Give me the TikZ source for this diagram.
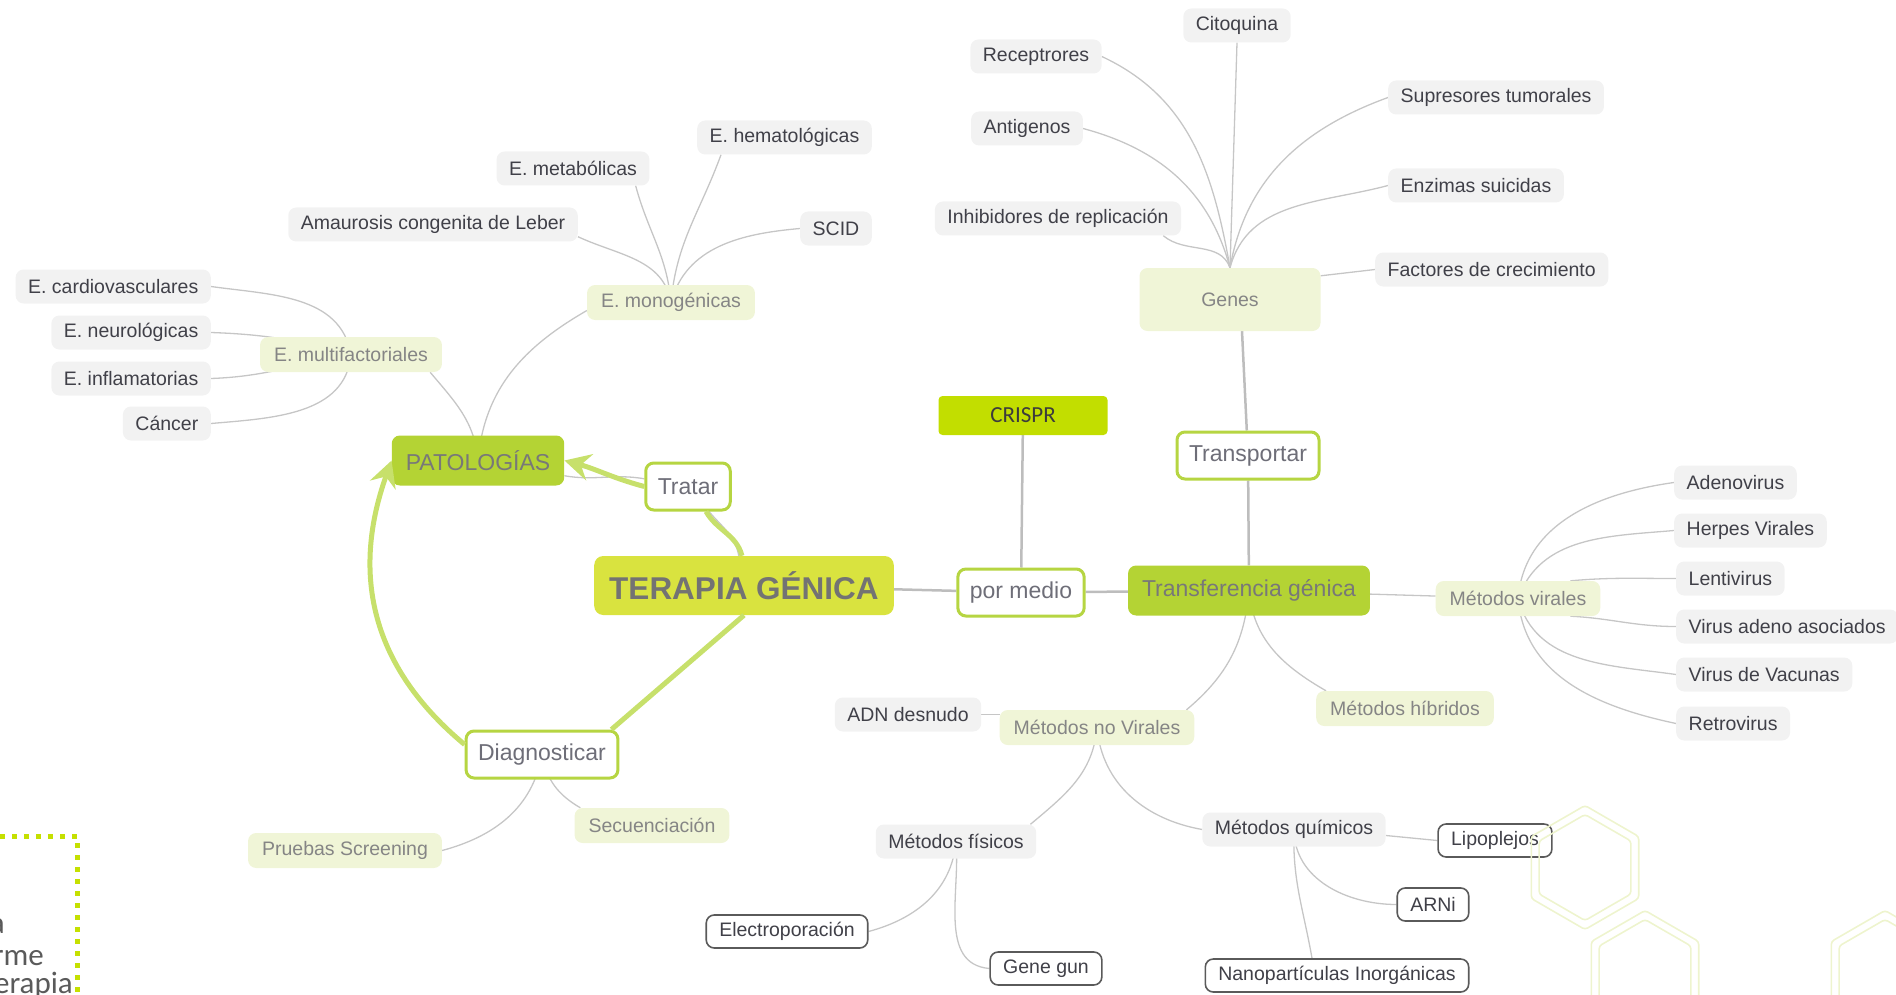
\documentclass[tikz,border=0pt]{standalone}
\usepackage{fontspec}
\setmainfont{Liberation Sans}
\newfontfamily\crisprfont{Carlito}
\usepackage{tikz}
\usetikzlibrary{arrows.meta}
\usetikzlibrary{backgrounds}
\usepackage{xcolor}

\definecolor{leafgray}{HTML}{F2F2F2}
\definecolor{leaftext}{HTML}{404048}
\definecolor{subfill}{HTML}{F0F5D7}
\definecolor{subtext}{HTML}{858585}
\definecolor{topicgreen}{HTML}{B4D334}
\definecolor{topictext}{HTML}{787878}
\definecolor{centralfill}{HTML}{D9E33F}
\definecolor{centraltext}{HTML}{737373}
\definecolor{linkgreen}{HTML}{B6D542}
\definecolor{linktext}{HTML}{6E6E78}
\definecolor{crisprfill}{HTML}{C2DE00}
\definecolor{crisprtext}{HTML}{3C3C3C}
\definecolor{treegray}{HTML}{C6C6C6}
\definecolor{trunkgray}{HTML}{BDBDBD}
\definecolor{relgreen}{HTML}{C7E06B}
\definecolor{hexgreen}{HTML}{EEF4CE}
\definecolor{framelime}{HTML}{C5E000}
\definecolor{boxline}{HTML}{5A5A5A}
\definecolor{notetext}{HTML}{5A5A5A}

\tikzset{
    leaf/.style={
        fill=leafgray,
        rounded corners=8pt,
        text=leaftext,
        font=\fontsize{19.5}{23}\selectfont,
        inner xsep=12.5pt,
        minimum height=34pt
    },
    branch/.style={
        fill=subfill,
        rounded corners=8pt,
        text=subtext,
        font=\fontsize{19.5}{23}\selectfont,
        inner xsep=14pt,
        minimum height=35pt
    },
    boxed/.style={
        draw=boxline,
        line width=1.6pt,
        fill=white,
        rounded corners=8pt,
        text=leaftext,
        font=\fontsize{19.5}{23}\selectfont,
        inner xsep=13pt,
        minimum height=33pt
    },
    link/.style={
        draw=linkgreen,
        line width=3pt,
        fill=white,
        rounded corners=8pt,
        text=linktext,
        font=\fontsize{23}{27}\selectfont,
        inner xsep=12pt,
        minimum height=47pt
    },
    topic/.style={
        fill=topicgreen,
        rounded corners=8pt,
        text=topictext,
        font=\fontsize{23}{27}\selectfont,
        inner xsep=14pt,
        minimum height=50pt
    },
    central/.style={
        fill=centralfill,
        rounded corners=9pt,
        text=centraltext,
        font=\fontsize{31.5}{36}\selectfont\bfseries,
        inner xsep=15pt,
        minimum height=59pt
    },
    crisprbox/.style={
        fill=crisprfill,
        rounded corners=4pt,
        text=crisprtext,
        font=\crisprfont\fontsize{23}{27}\selectfont,
        minimum width=169pt,
        minimum height=39pt
    },
    note/.style={
        text=notetext,
        font=\crisprfont\fontsize{31}{35}\selectfont,
        inner sep=0pt
    },
    tree/.style={draw=treegray, line width=1.3pt},
    trunk/.style={draw=trunkgray, line width=2.5pt},
    relline/.style={draw=relgreen, line width=5pt},
    relarrow/.style={draw=relgreen, line width=5pt,
        -{Stealth[length=26pt, width=27pt, inset=9pt, fill=relgreen]}},
    hexline/.style={draw=hexgreen, line width=1.6pt, rounded corners=3pt},
    framedots/.style={draw=framelime, line width=5.3pt,
        dash pattern=on 5.3pt off 6.7pt}
}

\begin{document}
\begin{tikzpicture}[x=1pt, y=1pt]
    \useasboundingbox (0,2.5) rectangle (1896,-992.5);

    % Vertices - left side
    \node[leaf, anchor=east] (cardio) at (211,-284) {E. cardiovasculares};
    \node[leaf, anchor=east] (neuro) at (211,-330) {E. neurológicas};
    \node[leaf, anchor=east] (inflam) at (211,-376) {E. inflamatorias};
    \node[leaf, anchor=east] (cancer) at (211,-421) {Cáncer};
    \node[branch] (multi) at (351,-352) {E. multifactoriales};
    \node[topic] (pat) at (478,-458) {PATOLOGÍAS};
    \node[branch] (mono) at (671,-300) {E. monogénicas};
    \node[leaf] (leber) at (433,-222) {Amaurosis congenita de Leber};
    \node[leaf] (metab) at (573,-166) {E. metabólicas};
    \node[leaf, anchor=east] (hemat) at (872,-135) {E. hematológicas};
    \node[leaf, anchor=east] (scid) at (872,-226) {SCID};

    % Vertices - centre
    \node[link] (tratar) at (688,-484) {Tratar};
    \node[central] (terapia) at (744,-583) {TERAPIA GÉNICA};
    \node[link] (diag) at (542,-752) {Diagnosticar};
    \node[branch] (screen) at (345,-848) {Pruebas Screening};
    \node[branch] (secuen) at (652,-823) {Secuenciación};
    \node[link] (medio) at (1021,-590) {por medio};
    \node[crisprbox] (crispr) at (1023,-413) {CRISPR};
    \node[topic] (transf) at (1249,-588) {Transferencia génica};
    \node[link] (transp) at (1248,-453) {Transportar};

    % Vertices - genes
    \node[branch, minimum width=181pt, minimum height=63pt] (genes) at (1230,-297) {Genes};
    \node[leaf] (cito) at (1237,-23) {Citoquina};
    \node[leaf] (recep) at (1036,-54) {Receptrores};
    \node[leaf] (antig) at (1027,-126) {Antigenos};
    \node[leaf] (inhib) at (1058,-216) {Inhibidores de replicación};
    \node[leaf, anchor=west] (supres) at (1388,-95) {Supresores tumorales};
    \node[leaf, anchor=west] (enzim) at (1388,-183) {Enzimas suicidas};
    \node[leaf, anchor=west] (factor) at (1375,-267) {Factores de crecimiento};

    % Vertices - vectors
    \node[branch] (viral) at (1518,-596) {Métodos virales};
    \node[leaf, anchor=west] (adeno) at (1674,-480) {Adenovirus};
    \node[leaf, anchor=west] (herpes) at (1674,-528) {Herpes Virales};
    \node[leaf, anchor=west] (lenti) at (1676,-576) {Lentivirus};
    \node[leaf, anchor=west] (aav) at (1676,-624) {Virus adeno asociados};
    \node[leaf, anchor=west] (vacunas) at (1676,-672) {Virus de Vacunas};
    \node[leaf, anchor=west] (retro) at (1676,-721) {Retrovirus};
    \node[branch] (hibrid) at (1405,-706) {Métodos híbridos};
    \node[branch] (noviral) at (1097,-725) {Métodos no Virales};
    \node[leaf] (adn) at (908,-712) {ADN desnudo};
    \node[leaf] (fisico) at (956,-839) {Métodos físicos};
    \node[leaf] (quimico) at (1294,-827) {Métodos químicos};
    \node[boxed] (lipo) at (1495,-838) {Lipoplejos};
    \node[boxed] (arni) at (1433,-902) {ARNi};
    \node[boxed] (nano) at (1337,-973) {Nanopartículas Inorgánicas};
    \node[boxed] (electro) at (787,-929) {Electroporación};
    \node[boxed] (gun) at (1046,-966) {Gene gun};

    % Note in the corner
    \node[note, anchor=base east] (notea) at (5,-931) {a};
    \node[note, anchor=base east] (noteb) at (44,-963) {rme};
    \node[note, anchor=base east] (notec) at (73,-991) {erapia};
    \draw[framedots] (0,-834) -- (77.5,-834) -- (77.5,-1000);

    % Edges
    \begin{scope}[on background layer]
    \draw[tree] (multi.center) to[out=100, in=-8] (cardio.east);
    \draw[tree] (multi.center) to[out=165, in=-2] (neuro.east);
    \draw[tree] (multi.center) to[out=190, in=2] (inflam.east);
    \draw[tree] (multi.center) to[out=-95, in=5] (cancer.east);
    \draw[tree] (pat.center) to[out=95, in=-50] ([xshift=-12pt]multi.south east);
    \draw[tree] (pat.center) to[out=85, in=210] ([yshift=-8pt]mono.west);
    \draw[tree] (mono.center) to[out=100, in=-25] ([yshift=5pt]leber.south east);
    \draw[tree] (mono.center) to[out=95, in=-75] ([xshift=-14pt]metab.south east);
    \draw[tree] (mono.center) to[out=85, in=-110] ([xshift=24pt]hemat.south west);
    \draw[tree] (mono.center) to[out=75, in=185] (scid.west);

    \draw[tree] (terapia) to[out=100, in=-50] (tratar);
    \draw[tree] (tratar) to[out=170, in=-10] (pat);
    \draw[tree] (diag.center) to[out=-100, in=15] (screen.east);
    \draw[tree] (diag.center) to[out=-80, in=150] ([xshift=6pt]secuen.north west);

    \draw[trunk] (terapia) -- (medio);
    \draw[trunk] (medio) -- (crispr);
    \draw[trunk] (medio) -- (transf);
    \draw[trunk] (transf) -- (transp);
    \draw[trunk] (transp) -- ([xshift=12pt]genes.south);

    \draw[tree] (genes.north) -- (cito.south);
    \draw[tree] (genes.north) to[out=100, in=-25] (recep.east);
    \draw[tree] (genes.north) to[out=105, in=-15] (antig.east);
    \draw[tree] (genes.north) to[out=110, in=-40] ([xshift=-18pt]inhib.south east);
    \draw[tree] (genes.north) to[out=80, in=200] (supres.west);
    \draw[tree] (genes.north) to[out=75, in=195] (enzim.west);
    \draw[tree] ([yshift=-8pt]genes.north east) -- (factor.west);

    \draw[tree] (transf) -- (viral);
    \draw[tree] (viral.center) to[out=85, in=188] (adeno.west);
    \draw[tree] (viral.center) to[out=70, in=185] (herpes.west);
    \draw[tree] ([xshift=-30pt]viral.north east) to[out=5, in=180] (lenti.west);
    \draw[tree] ([xshift=-30pt]viral.south east) to[out=-3, in=180] (aav.west);
    \draw[tree] (viral.center) to[out=-75, in=172] (vacunas.west);
    \draw[tree] (viral.center) to[out=-85, in=168] (retro.west);

    \draw[tree] (transf.center) to[out=-95, in=40] ([xshift=-8pt]noviral.north east);
    \draw[tree] (transf.center) to[out=-85, in=150] ([xshift=10pt]hibrid.north west);
    \draw[tree] (adn.east) -- (adn.east -| noviral.west);
    \draw[tree] (noviral.center) to[out=-95, in=40] ([xshift=-6pt]fisico.north east);
    \draw[tree] (noviral.center) to[out=-85, in=170] (quimico.west);
    \draw[tree] (fisico.center) to[out=-95, in=15] (electro.east);
    \draw[tree] (fisico.center) to[out=-85, in=175] (gun.west);
    \draw[tree] ([yshift=-6pt]quimico.east) -- (lipo.west);
    \draw[tree] (quimico.center) to[out=-90, in=180] (arni.west);
    \draw[tree] (quimico.center) to[out=-92, in=100] ([xshift=-25pt]nano.north);
    \end{scope}

    % Relations
    \draw[relline] ([xshift=-2pt]terapia.north) to[out=105, in=-60] ([xshift=18pt]tratar.south);
    \draw[relarrow] (tratar.west) to[out=165, in=-15] (pat.east);
    \draw[relline] (terapia.south) -- ([xshift=-8pt]diag.north east);
    \draw[relarrow] ([yshift=10pt]diag.west) .. controls (378,-670) and (348,-580) .. (pat.west);

    % Hexagons
    \foreach \cx/\cy in {1585/-865, 1645/-970, 1885/-970}
        \foreach \r in {62, 53}
            \draw[hexline] (\cx,\cy) +(90:\r) -- +(150:\r) -- +(210:\r)
                -- +(270:\r) -- +(330:\r) -- +(30:\r) -- cycle;
\end{tikzpicture}
\end{document}
